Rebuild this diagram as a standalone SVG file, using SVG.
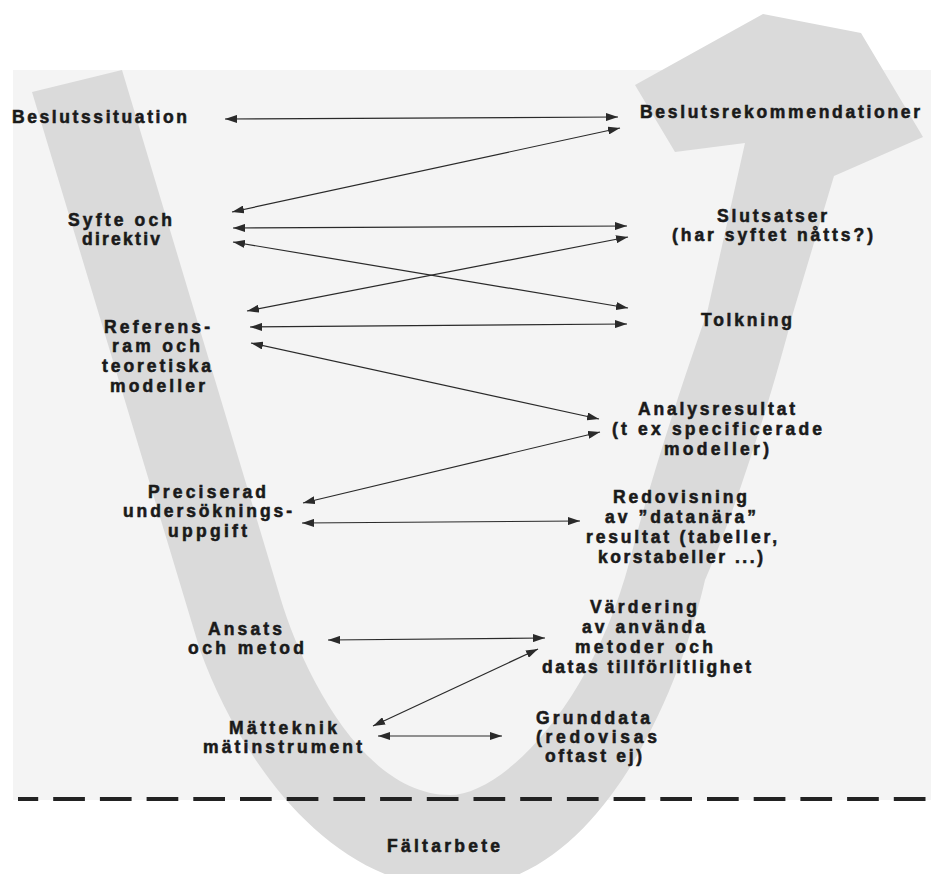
<svg xmlns="http://www.w3.org/2000/svg" width="931" height="874" viewBox="0 0 931 874">
<style>
.t{font-family:"Liberation Sans",Arial,Helvetica,sans-serif;font-weight:700;font-size:17.5px;fill:#1a1a1a;stroke:#1a1a1a;stroke-width:0.55px}
.c{stroke:#2a2a2a;stroke-width:1.2;fill:none;marker-start:url(#ah);marker-end:url(#ah)}
</style>
<defs>
<marker id="ah" viewBox="0 0 12 8" refX="12" refY="4" markerWidth="12" markerHeight="8" markerUnits="userSpaceOnUse" orient="auto-start-reverse"><path d="M0,0 L12,4 L0,8 z" fill="#2a2a2a"/></marker>
</defs>
<rect width="931" height="874" fill="#ffffff"/>
<rect x="13" y="70" width="918" height="730" fill="#f4f4f4"/>
<g id="band">
<path d="M32,92 L122,70 L281,600 C300,663 360,795 450,795 C500,795 590,710 630,560 C650,480 690,360 707,313 L745,143 L675,152 L635,85 L763,14 L861,33 L923,137 L834,176 L793,313 C776,380 740,500 705,580 C680,690 600,888 455,888 C330,888 240,760 200,650 Z" fill="#dadada"/>
</g>
<line x1="18" y1="799" x2="931" y2="799" stroke="#222" stroke-width="4" stroke-dasharray="31.7 15" stroke-dashoffset="11.5"/>
<g id="connectors">
<line class="c" x1="225" y1="119" x2="618" y2="117"/>
<line class="c" x1="232" y1="212" x2="620" y2="128"/>
<line class="c" x1="233" y1="228" x2="627" y2="226"/>
<line class="c" x1="233" y1="242" x2="628" y2="308"/>
<line class="c" x1="247" y1="311" x2="628" y2="237"/>
<line class="c" x1="250" y1="327" x2="627" y2="324"/>
<line class="c" x1="251" y1="343" x2="599" y2="419"/>
<line class="c" x1="303" y1="503" x2="600" y2="432"/>
<line class="c" x1="302" y1="523" x2="580" y2="521"/>
<line class="c" x1="328" y1="640" x2="545" y2="638"/>
<line class="c" x1="373" y1="726" x2="538" y2="649"/>
<line class="c" x1="378" y1="736" x2="502" y2="736"/>
</g>
<g id="beslutssituation"><text class="t" x="12" y="123" textLength="175" lengthAdjust="spacing">Beslutssituation</text></g>
<g id="syfte">
<text class="t" x="68" y="226" textLength="104" lengthAdjust="spacing">Syfte och</text>
<text class="t" x="82" y="245" textLength="78" lengthAdjust="spacing">direktiv</text>
</g>
<g id="referensram">
<text class="t" x="104" y="333" textLength="106" lengthAdjust="spacing">Referens-</text>
<text class="t" x="112" y="352" textLength="88" lengthAdjust="spacing">ram och</text>
<text class="t" x="102" y="372" textLength="109" lengthAdjust="spacing">teoretiska</text>
<text class="t" x="110" y="392" textLength="95" lengthAdjust="spacing">modeller</text>
</g>
<g id="preciserad">
<text class="t" x="148" y="498" textLength="118" lengthAdjust="spacing">Preciserad</text>
<text class="t" x="123" y="517" textLength="169" lengthAdjust="spacing">undersöknings-</text>
<text class="t" x="168" y="537" textLength="79" lengthAdjust="spacing">uppgift</text>
</g>
<g id="ansats">
<text class="t" x="208" y="635" textLength="74" lengthAdjust="spacing">Ansats</text>
<text class="t" x="188" y="654" textLength="116" lengthAdjust="spacing">och metod</text>
</g>
<g id="matteknik">
<text class="t" x="229" y="734" textLength="108" lengthAdjust="spacing">Mätteknik</text>
<text class="t" x="203" y="753" textLength="159" lengthAdjust="spacing">mätinstrument</text>
</g>
<g id="faltarbete"><text class="t" x="387" y="852" textLength="113" lengthAdjust="spacing">Fältarbete</text></g>
<g id="beslutsrekommendationer"><text class="t" x="640" y="118" textLength="280" lengthAdjust="spacing">Beslutsrekommendationer</text></g>
<g id="slutsatser">
<text class="t" x="717" y="222" textLength="110" lengthAdjust="spacing">Slutsatser</text>
<text class="t" x="672" y="241" textLength="201" lengthAdjust="spacing">(har syftet nåtts?)</text>
</g>
<g id="tolkning"><text class="t" x="701" y="326" textLength="91" lengthAdjust="spacing">Tolkning</text></g>
<g id="analysresultat">
<text class="t" x="638" y="415" textLength="157" lengthAdjust="spacing">Analysresultat</text>
<text class="t" x="612" y="435" textLength="210" lengthAdjust="spacing">(t ex specificerade</text>
<text class="t" x="664" y="455" textLength="105" lengthAdjust="spacing">modeller)</text>
</g>
<g id="redovisning">
<text class="t" x="613" y="503" textLength="134" lengthAdjust="spacing">Redovisning</text>
<text class="t" x="605" y="523" textLength="151" lengthAdjust="spacing">av ”datanära”</text>
<text class="t" x="586" y="543" textLength="191" lengthAdjust="spacing">resultat (tabeller,</text>
<text class="t" x="598" y="563" textLength="165" lengthAdjust="spacing">korstabeller ...)</text>
</g>
<g id="vardering">
<text class="t" x="590" y="613" textLength="107" lengthAdjust="spacing">Värdering</text>
<text class="t" x="582" y="633" textLength="123" lengthAdjust="spacing">av använda</text>
<text class="t" x="575" y="653" textLength="138" lengthAdjust="spacing">metoder och</text>
<text class="t" x="542" y="673" textLength="209" lengthAdjust="spacing">datas tillförlitlighet</text>
</g>
<g id="grunddata">
<text class="t" x="536" y="724" textLength="114" lengthAdjust="spacing">Grunddata</text>
<text class="t" x="536" y="743" textLength="121" lengthAdjust="spacing">(redovisas</text>
<text class="t" x="545" y="762" textLength="97" lengthAdjust="spacing">oftast ej)</text>
</g>
</svg>
